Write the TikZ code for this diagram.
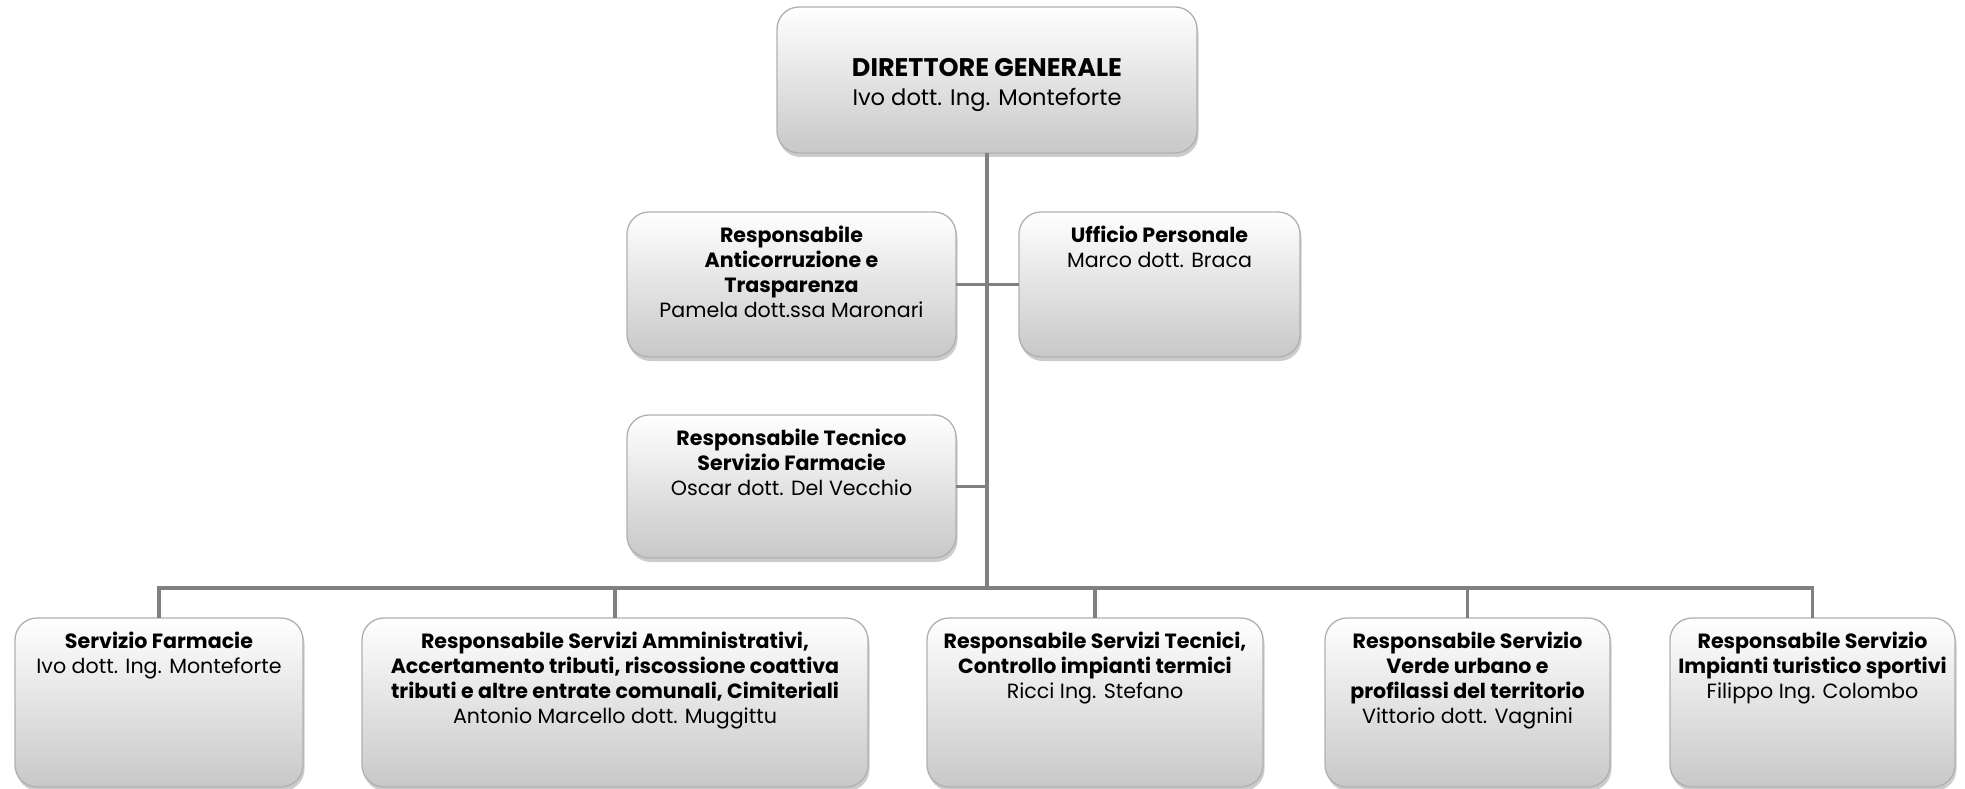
\documentclass[tikz,border=0pt]{standalone}
\usepackage{fontspec}
\setmainfont{Poppins}
\usetikzlibrary{shadows}
\definecolor{connc}{HTML}{808080}
\definecolor{boxbot}{HTML}{C8C8C8}
\definecolor{boxline}{HTML}{B0B0B0}
\newcommand\orgtxt[3]{\parbox[c][#2pt][t]{#1pt}{\centering\fontsize{20.6}{25}\selectfont\rule{0pt}{30pt}#3}}
\tikzset{
  orgbox/.style={draw=boxline, line width=1.3pt, rounded corners=22pt,
    top color=white, bottom color=boxbot, inner sep=0pt, outer sep=0pt,
    drop shadow={shadow xshift=1.5pt, shadow yshift=-4pt, opacity=0.4}},
  conn/.style={draw=connc, line width=3.5pt}
}
\begin{document}
\begin{tikzpicture}[x=1pt,y=-1pt]
\useasboundingbox (0,0) rectangle (1965,789);
\node[orgbox] (dg) at (987,80) {\parbox[c][146pt][t]{420pt}{\centering\fontsize{22.6}{29}\selectfont\rule{0pt}{70pt}{\fontsize{25.5}{29}\selectfont\textbf{DIRETTORE GENERALE}}\\Ivo dott. Ing. Monteforte}};
\node[orgbox] (anti) at (791.5,284.5) {\orgtxt{329}{145}{\textbf{Responsabile\\Anticorruzione e\\Trasparenza}\\Pamela dott.ssa Maronari}};
\node[orgbox] (uff) at (1159.5,284.5) {\orgtxt{281}{145}{\textbf{Ufficio Personale}\\Marco dott. Braca}};
\node[orgbox] (tec) at (791.5,486.5) {\orgtxt{329}{143}{\textbf{Responsabile Tecnico\\Servizio Farmacie}\\Oscar dott. Del Vecchio}};
\node[orgbox] (b1) at (159,702.5) {\orgtxt{288}{169}{\textbf{Servizio Farmacie}\\Ivo dott. Ing. Monteforte}};
\node[orgbox] (b2) at (615,702.5) {\orgtxt{506}{169}{\textbf{Responsabile Servizi Amministrativi,\\Accertamento tributi, riscossione coattiva\\tributi e altre entrate comunali, Cimiteriali}\\Antonio Marcello dott. Muggittu}};
\node[orgbox] (b3) at (1095,702.5) {\orgtxt{336}{169}{\textbf{Responsabile Servizi Tecnici,\\Controllo impianti termici}\\Ricci Ing. Stefano}};
\node[orgbox] (b4) at (1467.5,702.5) {\orgtxt{285}{169}{\textbf{Responsabile Servizio\\Verde urbano e\\profilassi del territorio}\\Vittorio dott. Vagnini}};
\node[orgbox] (b5) at (1812.5,702.5) {\orgtxt{285}{169}{\textbf{Responsabile Servizio\\Impianti turistico sportivi}\\Filippo Ing. Colombo}};
\coordinate (busy) at (0,588);
\draw[conn] (dg.south) -- (dg.south |- busy);
\draw[conn] (anti.east) -- (uff.west);
\draw[conn] (tec.east) -- (tec.east -| dg.south);
\draw[conn] (b1.north) |- (b5.north |- busy) -- (b5.north);
\foreach \n in {b2,b3,b4} \draw[conn] (\n.north) -- (\n.north |- busy);
\end{tikzpicture}
\end{document}
